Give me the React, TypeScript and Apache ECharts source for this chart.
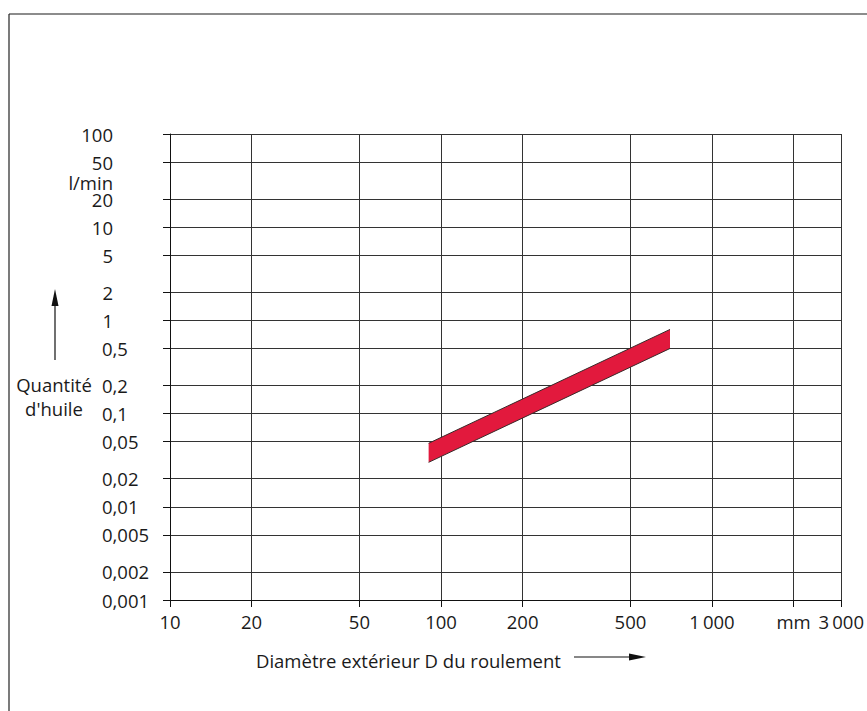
import React, { useEffect, useRef } from "react";
import * as echarts from "echarts";

// ---- data ----
const xTicks = [10, 20, 50, 100, 200, 500, 1000, 2000, 3000];
const xTickLabels = ["10", "20", "50", "100", "200", "500", "1\u2009000", "mm", "3\u2009000"];
const yTicks = [0.001, 0.002, 0.005, 0.01, 0.02, 0.05, 0.1, 0.2, 0.5, 1, 2, 5, 10, 20, 50, 100];
const yTickLabels = ["0,001", "0,002", "0,005", "0,01", "0,02", "0,05", "0,1", "0,2", "0,5", "1", "2", "5", "10", "20", "50", "100"];
const yUnitValue = 30;
const yUnitLabel = "l/min";
const bandX = [90, 700];
const bandLower = [0.03, 0.5];
const bandUpper = [0.048, 0.8];

const FONT = "Open Sans";
const FS = 18.5;
const TXT = "#1a1a1a";

function findLabel(v: number, ticks: number[]): number {
  for (let i = 0; i < ticks.length; i++) {
    if (Math.abs(v - ticks[i]) / ticks[i] < 1e-6) return i;
  }
  return -1;
}

const yUpperValues = yTicks.filter((v) => v >= 1);
const yLowerValues = yTicks.filter((v) => v < 1);

function yLabel(v: number): string {
  if (Math.abs(v - yUnitValue) < 1e-6) return yUnitLabel;
  const i = findLabel(v, yTicks);
  return i >= 0 ? yTickLabels[i] : "";
}

export default function App() {
  const ref = useRef<HTMLDivElement>(null);
  useEffect(() => {
    if (!ref.current) return;
    const chart = echarts.init(ref.current, undefined, { renderer: "svg" });
    const baseY = {
      type: "log",
      logBase: 10,
      min: 0.001,
      max: 100,
      position: "left",
      minorTick: { show: false },
    };
    const option: any = {
      animation: false,
      backgroundColor: "#ffffff",
      grid: { left: 170, top: 134, width: 674, height: 466 },
      xAxis: {
        type: "log",
        logBase: 10,
        min: 10,
        max: 3000,
        axisLine: { show: true, lineStyle: { color: "#111", width: 1 } },
        axisTick: { show: true, customValues: xTicks, length: 7, inside: false, lineStyle: { color: "#111", width: 1 } },
        minorTick: { show: false },
        axisLabel: {
          customValues: xTicks,
          margin: 12,
          color: TXT,
          fontFamily: FONT,
          fontSize: FS,
          formatter: (v: number) => {
            const i = findLabel(v, xTicks);
            return i >= 0 ? xTickLabels[i] : "";
          },
        },
        splitLine: { show: true, lineStyle: { color: "#333", width: 1 } },
      },
      yAxis: [
        {
          ...baseY,
          axisLine: { show: true, lineStyle: { color: "#111", width: 1 } },
          axisTick: { show: true, customValues: yTicks, length: 7, inside: false, lineStyle: { color: "#111", width: 1 } },
          axisLabel: {
            customValues: [...yUpperValues, yUnitValue],
            align: "right",
            margin: 57,
            color: TXT,
            fontFamily: FONT,
            fontSize: FS,
            formatter: yLabel,
          },
          splitLine: { show: true, lineStyle: { color: "#333", width: 1 } },
        },
        {
          ...baseY,
          axisLine: { show: false },
          axisTick: { show: false, customValues: yLowerValues },
          axisLabel: {
            customValues: yLowerValues,
            align: "left",
            margin: 68,
            color: TXT,
            fontFamily: FONT,
            fontSize: FS,
            formatter: yLabel,
          },
          splitLine: { show: false },
        },
      ],
      series: [
        {
          type: "custom",
          coordinateSystem: "cartesian2d",
          xAxisIndex: 0,
          yAxisIndex: 0,
          data: [[bandX[0], bandLower[0], bandUpper[0], bandX[1], bandLower[1], bandUpper[1]]],
          encode: { x: [0, 3], y: [1, 2, 4, 5] },
          renderItem: (params: any, api: any) => {
            const tl = api.coord([api.value(0), api.value(2)]);
            const tr = api.coord([api.value(3), api.value(5)]);
            const br = api.coord([api.value(3), api.value(4)]);
            const bl = api.coord([api.value(0), api.value(1)]);
            return {
              type: "group",
              children: [
                { type: "polygon", shape: { points: [tl, tr, br, bl] }, style: { fill: "#e2193d" } },
                { type: "polyline", shape: { points: [tl, tr] }, style: { stroke: "#3a2a2a", lineWidth: 1, fill: null } },
                { type: "polyline", shape: { points: [bl, br] }, style: { stroke: "#3a2a2a", lineWidth: 1, fill: null } },
              ],
            };
          },
          z: 5,
        },
      ],
      graphic: [
        { type: "line", shape: { x1: 9, y1: 14, x2: 867, y2: 14 }, style: { stroke: "#666", lineWidth: 1.5 } },
        { type: "line", shape: { x1: 9, y1: 14, x2: 9, y2: 711 }, style: { stroke: "#222", lineWidth: 1.2 } },
        {
          type: "text",
          x: 54,
          y: 396,
          style: {
            text: "Quantité\nd'huile",
            fontFamily: FONT,
            fontSize: FS,
            fill: TXT,
            align: "center",
            verticalAlign: "middle",
            lineHeight: 24,
          },
        },
        { type: "line", shape: { x1: 55, y1: 360, x2: 55, y2: 300 }, style: { stroke: "#111", lineWidth: 1.2 } },
        { type: "polygon", shape: { points: [[55, 289], [51.5, 306], [58.5, 306]] }, style: { fill: "#111" } },
        {
          type: "text",
          x: 256,
          y: 660,
          style: {
            text: "Diamètre extérieur D du roulement",
            fontFamily: FONT,
            fontSize: FS,
            fill: TXT,
            align: "left",
            verticalAlign: "middle",
          },
        },
        { type: "line", shape: { x1: 574, y1: 657, x2: 636, y2: 657 }, style: { stroke: "#111", lineWidth: 1.2 } },
        { type: "polygon", shape: { points: [[646, 657], [629, 653.5], [629, 660.5]] }, style: { fill: "#111" } },
      ],
    };
    chart.setOption(option);
    return () => chart.dispose();
  }, []);
  return (
    <div
      ref={ref}
      style={{ position: "fixed", left: 0, top: 0, width: 867, height: 711, background: "#fff" }}
    />
  );
}
